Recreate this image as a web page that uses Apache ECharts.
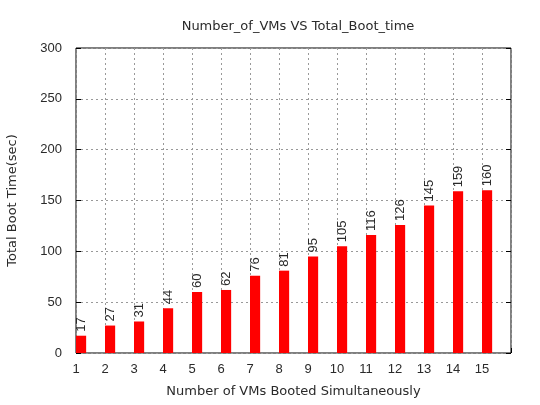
<!DOCTYPE html>
<html>
<head>
<meta charset="utf-8">
<script src="https://cdn.jsdelivr.net/npm/echarts@6/dist/echarts.min.js"></script>
<style>
  html, body { margin: 0; padding: 0; background: #fff; }
  #main { width: 540px; height: 405px; }
</style>
</head>
<body>
<div id="main"></div>
<script>
// number of VMs booted together, and the total boot time
const vmCounts = [1, 2, 3, 4, 5, 6, 7, 8, 9, 10, 11, 12, 13, 14, 15];
const bootTimes = [17, 27, 31, 44, 60, 62, 76, 81, 95, 105, 116, 126, 145, 159, 160];
const yTicks = [0, 50, 100, 150, 200, 250, 300];

const BAR_W = 0.35;          // bar width in x units, bars start at their tick
const FONT = 'Liberation Sans, Arial, sans-serif';
const WIDE = 'DejaVu Sans, sans-serif';
const TXT = '#2a2a2a';

let chart = echarts.init(document.getElementById('main'));

let seriesData = [];
for (let i = 0; i < vmCounts.length; i++) {
  seriesData.push([vmCounts[i], bootTimes[i]]);
}

let option = {
  animation: false,
  backgroundColor: '#fff',
  title: {
    text: 'Number_of_VMs VS Total_Boot_time',
    left: 293,
    textAlign: 'center',
    top: 15,
    textStyle: { fontFamily: WIDE, fontSize: 13, fontWeight: 'normal', color: TXT }
  },
  grid: {
    left: 76, right: 29, top: 48, bottom: 52,
    outerBoundsMode: 'none',
    show: true, borderColor: '#000', borderWidth: 1
  },
  xAxis: {
    type: 'value',
    min: 1, max: 16, interval: 1,
    name: 'Number of VMs Booted Simultaneously',
    nameLocation: 'middle',
    nameGap: 32,
    nameTextStyle: { fontFamily: WIDE, fontSize: 13, color: TXT },
    axisLine: { show: false },
    axisTick: { show: true, inside: true, length: 5, lineStyle: { color: '#000' } },
    axisLabel: {
      margin: 10, fontFamily: FONT, fontSize: 13, color: TXT,
      formatter: function (v) { return v <= vmCounts[vmCounts.length - 1] ? String(v) : ''; }
    },
    splitLine: { show: true, lineStyle: { color: '#999', type: [2, 3], width: 1 } }
  },
  yAxis: [{
    type: 'value',
    min: yTicks[0], max: yTicks[yTicks.length - 1], interval: 50,
    name: 'Total Boot Time(sec)',
    nameLocation: 'middle',
    nameGap: 57,
    nameTextStyle: { fontFamily: WIDE, fontSize: 13, color: TXT },
    axisLine: { show: false },
    axisTick: { show: true, inside: true, length: 5, lineStyle: { color: '#000' } },
    axisLabel: { margin: 14, fontFamily: FONT, fontSize: 13, color: TXT },
    splitLine: { show: true, lineStyle: { color: '#999', type: [2, 3], width: 1 } }
  }, {
    type: 'value',
    position: 'right',
    min: yTicks[0], max: yTicks[yTicks.length - 1], interval: 50,
    axisLine: { show: false },
    axisTick: { show: true, inside: true, length: 5, lineStyle: { color: '#000' } },
    axisLabel: { show: false },
    splitLine: { show: false }
  }],
  series: [{
    type: 'custom',
    data: seriesData,
    renderItem: function (params, api) {
      let x = api.value(0);
      let y = api.value(1);
      let topLeft = api.coord([x, y]);
      let botRight = api.coord([x + BAR_W, 0]);
      let cx = (topLeft[0] + botRight[0]) / 2;
      return {
        type: 'group',
        children: [{
          type: 'rect',
          shape: {
            x: topLeft[0], y: topLeft[1],
            width: botRight[0] - topLeft[0],
            height: botRight[1] - topLeft[1]
          },
          style: { fill: '#ff0000' }
        }, {
          type: 'text',
          x: cx, y: topLeft[1] - 4,
          rotation: Math.PI / 2,
          style: {
            text: String(y),
            fontFamily: FONT, fontSize: 13, fill: TXT,
            textAlign: 'left', textVerticalAlign: 'middle'
          }
        }]
      };
    }
  }]
};

if (option && typeof option === 'object') {
  chart.setOption(option, true);
}
</script>
</body>
</html>
